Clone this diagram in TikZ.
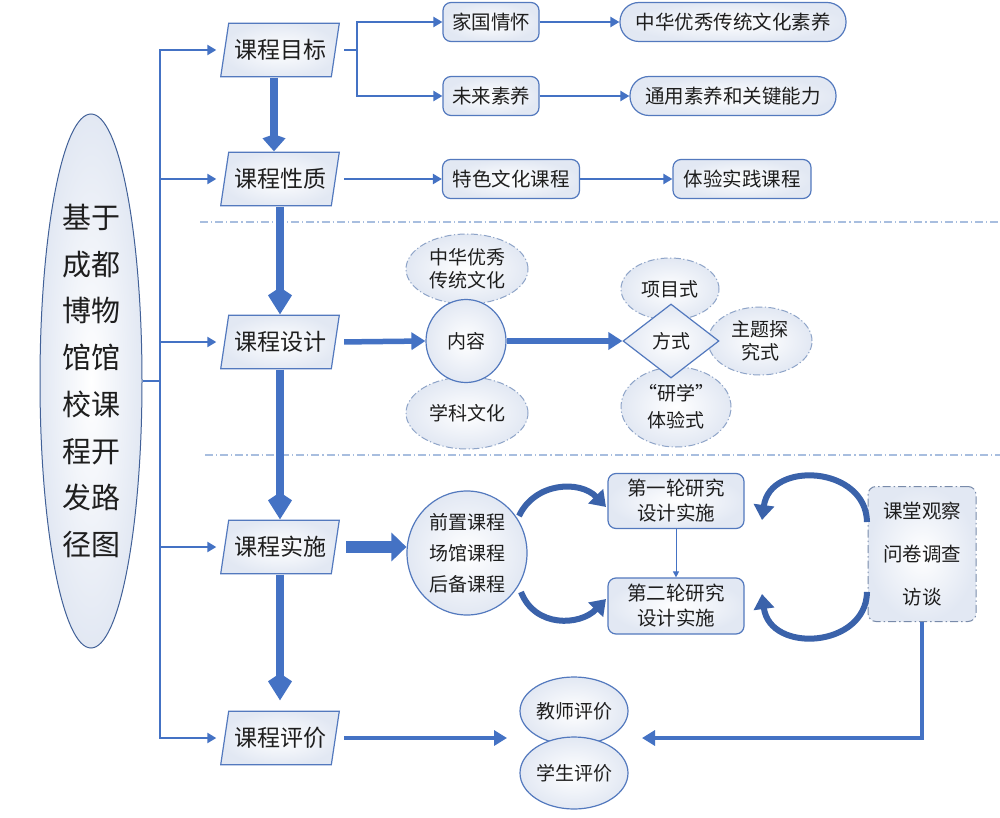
\documentclass[tikz,border=0pt]{standalone}
\usepackage{fontspec}
\setmainfont{Noto Sans CJK SC}
\usetikzlibrary{shapes.geometric,arrows.meta,calc}
\definecolor{bordc}{HTML}{5379BE}
\definecolor{arrc}{HTML}{4472C4}
\definecolor{darkc}{HTML}{3A62AA}
\definecolor{dashc}{HTML}{8EA4C8}
\definecolor{linec}{HTML}{A8BEDF}
\definecolor{fillc}{HTML}{E2E8F3}
\definecolor{txtc}{HTML}{1E1E1E}
\begin{document}
\begin{tikzpicture}[x=1pt,y=-1pt,
  every node/.style={text=txtc},
  para/.style={rectangle, minimum width=120pt, minimum height=55pt, inner sep=0pt,
    font=\fontsize{23}{28}\selectfont,
    path picture={\shadedraw[inner color=white, outer color=fillc, draw=bordc, line width=1.2pt]
      ([xshift=0.7pt,yshift=0.7pt]path picture bounding box.south west) --
      ([xshift=8.7pt,yshift=-0.7pt]path picture bounding box.north west) --
      ([xshift=-0.7pt,yshift=-0.7pt]path picture bounding box.north east) --
      ([xshift=-8.7pt,yshift=0.7pt]path picture bounding box.south east) -- cycle;}},
  rbox/.style={rectangle, rounded corners=8pt, draw=bordc, line width=1.2pt,
    inner color=white, outer color=fillc, minimum height=39pt, inner sep=0pt,
    align=center, font=\fontsize{19.5}{25}\selectfont},
  sbox/.style={rbox, rounded corners=19pt},
  dashpat/.style={dash pattern=on 7pt off 2.5pt on 1.2pt off 2.5pt},
  dell/.style={ellipse, draw=dashc, line width=1pt, dashpat,
    inner color=white, outer color=fillc, inner sep=0pt, align=center,
    font=\fontsize{19}{23}\selectfont},
  sell/.style={ellipse, draw=bordc, line width=1.2pt, inner color=white,
    outer color=fillc, inner sep=0pt, align=center,
    font=\fontsize{19}{23}\selectfont},
  trunk/.style={draw=arrc, line width=2.6pt},
  thinarr/.style={draw=arrc, line width=2.4pt, -{Triangle[length=9pt,width=10pt]}},
  downarr/.style={draw=arrc, line width=8pt, -{Kite[length=27pt,width=24pt,inset=8pt]}},
  midarr/.style={draw=arrc, line width=5.5pt, -{Triangle[length=14pt,width=17pt]}},
  blockarr/.style={draw=arrc, line width=12pt, -{Triangle[length=15pt,width=28pt]}},
  evarr/.style={draw=arrc, line width=3.8pt, -{Triangle[length=13pt,width=15pt]}},
  curvarr/.style={draw=darkc, line width=6pt, -{Triangle[length=15pt,width=20pt]}},
  sepline/.style={draw=linec, line width=1.1pt, dash pattern=on 8pt off 3pt on 1.2pt off 3pt}
]
\useasboundingbox (0,0) rectangle (1000,818);
\fill[white] (0,0) rectangle (1000,818);

% separators
\coordinate (sa1) at (200,222); \coordinate (sa2) at (1000,222);
\coordinate (sb1) at (205,455); \coordinate (sb2) at (1000,455);
\draw[sepline] (sa1) -- (sa2);
\draw[sepline] (sb1) -- (sb2);

% root
\node[ellipse, draw=bordc!80!black, line width=1pt, inner color=white, outer color=fillc,
  minimum width=102pt, minimum height=534pt, inner sep=0pt, align=center,
  font=\fontsize{29}{46.7}\selectfont] (root) at (91,381)
  {基于\\成都\\博物\\馆馆\\校课\\程开\\发路\\径图};

% level 1
\node[para] (p1) at (280,50) {课程目标};
\node[para] (p2) at (280,179) {课程性质};
\node[para] (p3) at (280,342) {课程设计};
\node[para] (p4) at (280,547) {课程实施};
\node[para] (p5) at (280,738) {课程评价};

% trunk
\coordinate (tk) at (160,381);
\coordinate (ttop) at (160,50);
\coordinate (tbot) at (160,738);
\draw[trunk] (root.east) -- (tk);
\draw[trunk, line cap=rect] (ttop) -- (tbot);
\foreach \p in {p1,p2,p3,p4,p5} {\draw[thinarr, shorten >=3.5pt] (tk |- \p.west) -- (\p.west);}

% down arrows
\draw[draw=arrc, line width=8pt, -{Kite[length=17pt,width=23pt,inset=4pt]}]
  ([xshift=-6pt]p1.south) -- ([xshift=-6pt]p2.north);
\draw[downarr] (p2.south) -- (p3.north);
\draw[downarr] (p3.south) -- (p4.north);
\draw[downarr, shorten >=10pt] (p4.south) -- (p5.north);

% goals
\node[rbox, minimum width=96pt] (jg) at (491,22) {家国情怀};
\node[sbox, minimum width=226pt] (zh) at (733,22) {中华优秀传统文化素养};
\node[rbox, minimum width=96pt] (wl) at (491,96) {未来素养};
\node[sbox, minimum width=206pt] (ty) at (733,96) {通用素养和关键能力};
\coordinate (s1) at (357,50);
\draw[trunk, shorten <=4pt] (p1.east) -- (s1);
\draw[thinarr] (s1) |- (jg.west);
\draw[thinarr] (s1) |- (wl.west);
\draw[thinarr] (jg) -- (zh);
\draw[thinarr] (wl) -- (ty);

% nature
\node[rbox, minimum width=137pt] (ts) at (511,179) {特色文化课程};
\node[rbox, minimum width=138pt] (tj) at (742,179) {体验实践课程};
\draw[thinarr, shorten <=4pt] (p2.east) -- (ts.west);
\draw[thinarr] (ts) -- (tj);

% design
\node[dell, minimum width=122pt, minimum height=70pt] (zhc) at (467,269) {中华优秀\\传统文化};
\node[dell, minimum width=122pt, minimum height=72pt] (xk) at (467,413) {学科文化};
\node[dell, minimum width=98pt, minimum height=62pt] (xm) at (670,289) {项目式};
\node[dell, minimum width=104pt, minimum height=68pt] (zt) at (760,341) {主题探\\究式};
\node[dell, minimum width=110pt, minimum height=80pt, font=\fontsize{19}{27}\selectfont] (yx) at (676,407) {“研学”\\体验式};
\node[sell, minimum width=80pt, minimum height=83pt] (nr) at (466,341) {内容};
\node[diamond, draw=bordc, line width=1.2pt, inner color=white, outer color=fillc,
  minimum width=96pt, minimum height=74pt, inner sep=0pt,
  font=\fontsize{19}{23}\selectfont] (fs) at (671,341) {方式};
\draw[midarr, shorten <=4pt] (p3.east) -- (nr.west);
\draw[midarr] (nr.east) -- (fs.west);

% implementation
\node[sell, minimum width=120pt, minimum height=124pt, font=\fontsize{19}{31}\selectfont] (qz) at (467,553) {前置课程\\场馆课程\\后备课程};
\node[rbox, minimum width=136pt, minimum height=55pt] (d1) at (676,501) {第一轮研究\\设计实施};
\node[rbox, minimum width=136pt, minimum height=56pt] (d2) at (676,606) {第二轮研究\\设计实施};
\node[rectangle, rounded corners=8pt, draw=dashc!85!black, line width=1pt,
  dash pattern=on 8pt off 3pt on 1.5pt off 3pt, inner color=white, outer color=fillc,
  minimum width=108pt, minimum height=135pt, inner sep=0pt, align=center,
  font=\fontsize{19.5}{43}\selectfont] (ob) at (922,554) {课堂观察\\问卷调查\\访谈};
\draw[blockarr] ([xshift=6pt]p4.east) -- (p4.east -| qz.west);
\draw[draw=arrc, line width=0.9pt, -{Triangle[length=6pt,width=6pt]}] (d1.south) -- (d2.north);

\coordinate (c1a) at (519,516); \coordinate (c1b) at (606,507);
\coordinate (c2a) at (521,592); \coordinate (c2b) at (606,599);
\coordinate (c3a) at (867,522); \coordinate (c3b) at (762,520);
\coordinate (c4a) at (867,592); \coordinate (c4b) at (762,594);
\draw[curvarr] (c1a) .. controls (535,482) and (580,480) .. (c1b);
\draw[curvarr] (c2a) .. controls (535,628) and (580,626) .. (c2b);
\draw[curvarr] (c3a) .. controls (866,466) and (770,460) .. (c3b);
\draw[curvarr] (c4a) .. controls (866,648) and (770,654) .. (c4b);

% evaluation
\node[sell, minimum width=108pt, minimum height=68pt] (js) at (574,711) {教师评价};
\node[sell, minimum width=108pt, minimum height=72pt] (xs) at (574,773) {学生评价};
\coordinate (evL) at (507,738);
\coordinate (evR) at (642,738);
\draw[evarr, shorten <=4pt] (p5.east) -- (evL);
\draw[evarr] (ob.south) |- (evR);
\end{tikzpicture}
\end{document}
